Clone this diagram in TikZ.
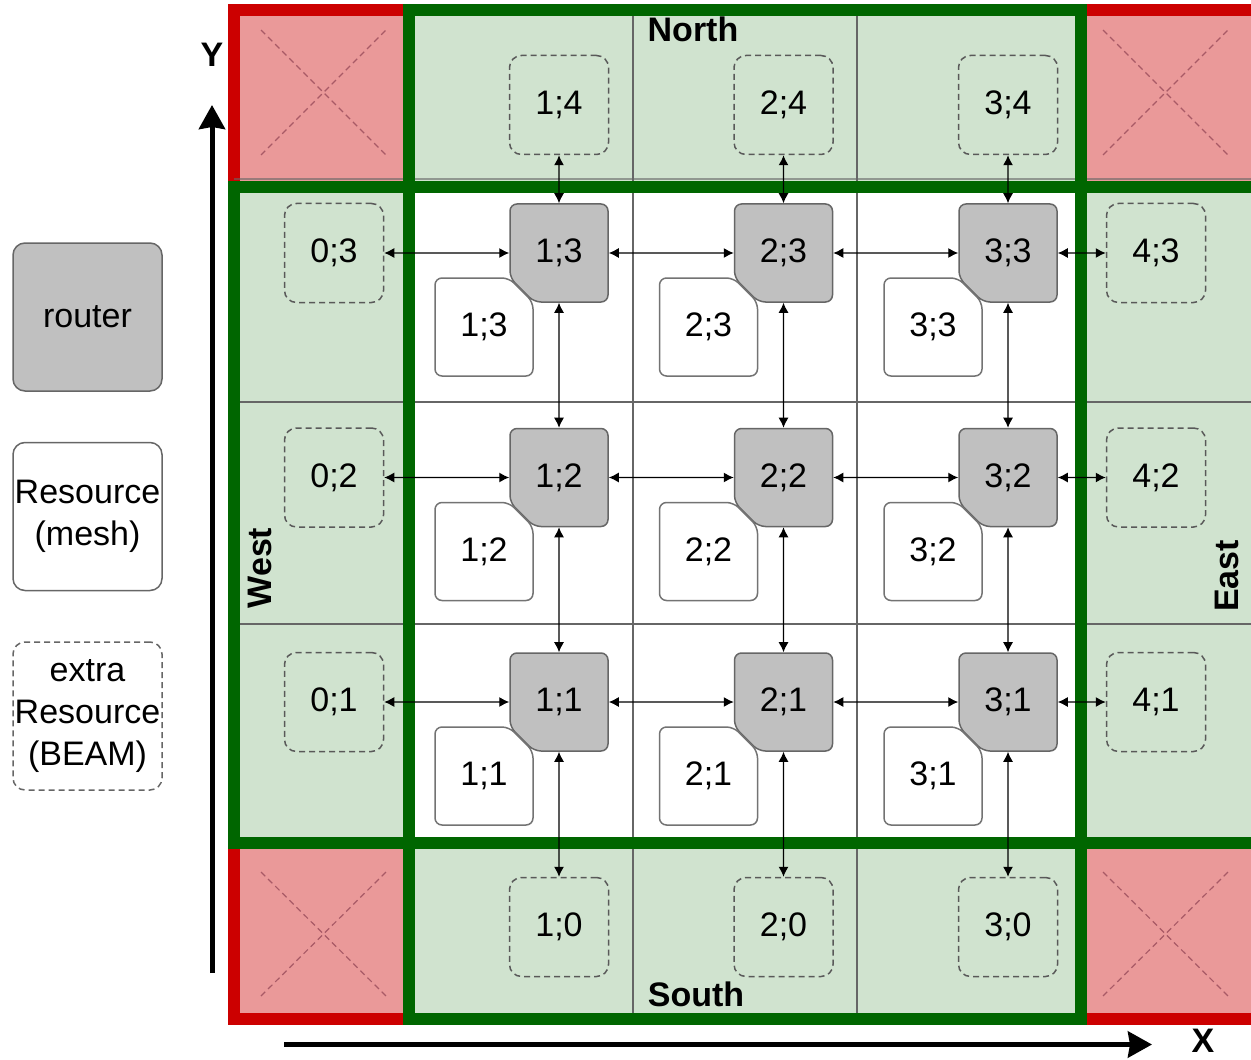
\documentclass[tikz,border=0pt]{standalone}
\usepackage{fontspec}
\setmainfont{Liberation Sans}
\usetikzlibrary{arrows.meta, positioning, calc, shapes.misc}

\definecolor{cellgreen}{HTML}{D0E3CF}
\definecolor{framegreen}{HTML}{006600}
\definecolor{cellred}{HTML}{EA9999}
\definecolor{framered}{HTML}{CC0000}
\definecolor{crossred}{HTML}{A85A66}
\definecolor{rtrgray}{HTML}{C0C0C0}

\begin{document}
\begin{tikzpicture}[x=0.5pt, y=-0.5pt,
        font=\fontsize{17}{21}\selectfont,
        rtr/.style={chamfered rectangle, chamfered rectangle corners=south west,
                    chamfered rectangle sep=6pt, rounded corners=3.5pt, draw=black!60,
                    fill=rtrgray, line width=0.75pt, inner sep=0pt, minimum size=49pt},
        res/.style={chamfered rectangle, chamfered rectangle corners=north east,
                    chamfered rectangle sep=6pt, rounded corners=3.5pt, draw=black!55,
                    fill=white, line width=0.75pt, inner sep=0pt, minimum size=49pt},
        xres/.style={rectangle, rounded corners=6pt, draw=black!65, line width=0.75pt,
                     dash pattern=on 3pt off 2pt, inner sep=0pt, minimum size=49.5pt},
        leg/.style={rectangle, rounded corners=6pt, draw=black!60, line width=0.75pt,
                    text width=74.5pt, align=center, minimum height=74pt, inner sep=0pt},
        arr/.style={{Latex[length=5pt,width=5pt]}-{Latex[length=5pt,width=5pt]}, line width=0.6pt},
        axis/.style={-{Stealth[length=12pt,width=13pt,inset=1pt]}, line width=2.5pt},
        side/.style={font=\fontsize{17}{21}\selectfont\bfseries},
        grid/.style={draw=black!60, line width=0.7pt},
        corner/.style={draw=framered, fill=cellred, line width=6pt},
        cross/.style={draw=crossred, line width=0.6pt, dash pattern=on 3pt off 2pt},
        frame/.style={draw=framegreen, line width=6pt},
        node distance=62.5pt]
      \useasboundingbox (0,0) rectangle (1251,1059);

      % cells
      \fill[cellgreen] (409,10.5) rectangle (1081,1019);
      \fill[cellgreen] (233.5,187) rectangle (1258,843);
      \fill[white] (409,187) rectangle (1081,843);
      \draw[grid] (633,10.5) -- (633,1019);
      \draw[grid] (857,10.5) -- (857,1019);
      \draw[grid] (233.5,402) -- (1258,402);
      \draw[grid] (233.5,624) -- (1258,624);

      % unused corners
      \draw[corner] (233.5,10.5) rectangle (409,187);
      \draw[corner] (1081,10.5) rectangle (1258,187);
      \draw[corner] (233.5,843) rectangle (409,1019);
      \draw[corner] (1081,843) rectangle (1258,1019);
      \draw[grid, opacity=.6] (233.5,179) -- (1258,179);
      \draw[cross] (261,30) -- (386,155) (261,155) -- (386,30);
      \draw[cross] (1103,30) -- (1228,155) (1103,155) -- (1228,30);
      \draw[cross] (261,872) -- (386,996) (261,996) -- (386,872);
      \draw[cross] (1103,872) -- (1228,996) (1103,996) -- (1228,872);

      % borders
      \draw[frame] (409,10.5) rectangle (1081,1019);
      \draw[frame] (233.5,187) rectangle (1258,843);

      % routers
      \node[rtr] (r13) at (559,253) {1;3};
      \node[rtr, right=of r13] (r23) {2;3};
      \node[rtr, right=of r23] (r33) {3;3};
      \node[rtr, below=of r13] (r12) {1;2};
      \node[rtr, right=of r12] (r22) {2;2};
      \node[rtr, right=of r22] (r32) {3;2};
      \node[rtr, below=of r12] (r11) {1;1};
      \node[rtr, right=of r11] (r21) {2;1};
      \node[rtr, right=of r21] (r31) {3;1};

      % mesh resources
      \node[res] (m13) at ($(r13)+(-75,74)$) {1;3};
      \node[res] (m23) at ($(r23)+(-75,74)$) {2;3};
      \node[res] (m33) at ($(r33)+(-75,74)$) {3;3};
      \node[res] (m12) at ($(r12)+(-75,74)$) {1;2};
      \node[res] (m22) at ($(r22)+(-75,74)$) {2;2};
      \node[res] (m32) at ($(r32)+(-75,74)$) {3;2};
      \node[res] (m11) at ($(r11)+(-75,74)$) {1;1};
      \node[res] (m21) at ($(r21)+(-75,74)$) {2;1};
      \node[res] (m31) at ($(r31)+(-75,74)$) {3;1};

      % extra resources
      \node[xres, left=of r13] (e03) {0;3};
      \node[xres, left=of r12] (e02) {0;2};
      \node[xres, left=of r11] (e01) {0;1};
      \node[xres, right=24pt of r33] (e43) {4;3};
      \node[xres, right=24pt of r32] (e42) {4;2};
      \node[xres, right=24pt of r31] (e41) {4;1};
      \node[xres, above=24pt of r13] (e14) {1;4};
      \node[xres, above=24pt of r23] (e24) {2;4};
      \node[xres, above=24pt of r33] (e34) {3;4};
      \node[xres, below=of r11] (e10) {1;0};
      \node[xres, below=of r21] (e20) {2;0};
      \node[xres, below=of r31] (e30) {3;0};

      % links
      \draw[arr] (e03) -- (r13);
      \draw[arr] (r13) -- (r23);
      \draw[arr] (r23) -- (r33);
      \draw[arr] (r33) -- (e43);
      \draw[arr] (e02) -- (r12);
      \draw[arr] (r12) -- (r22);
      \draw[arr] (r22) -- (r32);
      \draw[arr] (r32) -- (e42);
      \draw[arr] (e01) -- (r11);
      \draw[arr] (r11) -- (r21);
      \draw[arr] (r21) -- (r31);
      \draw[arr] (r31) -- (e41);
      \draw[arr] (e14) -- (r13);
      \draw[arr] (r13) -- (r12);
      \draw[arr] (r12) -- (r11);
      \draw[arr] (r11) -- (e10);
      \draw[arr] (e24) -- (r23);
      \draw[arr] (r23) -- (r22);
      \draw[arr] (r22) -- (r21);
      \draw[arr] (r21) -- (e20);
      \draw[arr] (e34) -- (r33);
      \draw[arr] (r33) -- (r32);
      \draw[arr] (r32) -- (r31);
      \draw[arr] (r31) -- (e30);

      % side names
      \node[side] (north) at (693,29) {North};
      \node[side] (south) at (696,994) {South};
      \node[side, rotate=90] (west) at (260,568) {West};
      \node[side, rotate=90] (east) at (1227,576) {East};

      % axes
      \coordinate (y0) at (212,973);
      \coordinate (y1) at (212,105);
      \coordinate (x0) at (284,1044.5);
      \coordinate (x1) at (1152,1044.5);
      \draw[axis] (y0) -- (y1);
      \draw[axis] (x0) -- (x1);
      \node[side] (ylab) at (212,55) {Y};
      \node[side] (xlab) at (1203,1041) {X};

      % legend
      \node[leg, fill=rtrgray] (lr) at (87.5,317) {router};
      \node[leg, below=25pt of lr] (lm) {Resource\\(mesh)};
      \node[leg, dash pattern=on 3pt off 2pt, below=25pt of lm] (le) {extra\\Resource\\(BEAM)};
    \end{tikzpicture}
\end{document}
